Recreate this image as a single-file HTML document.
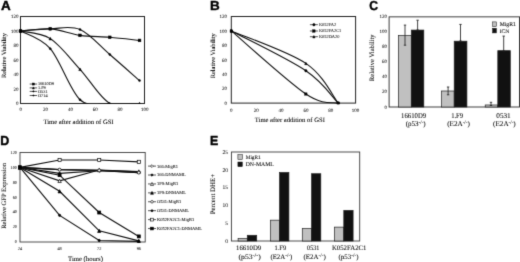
<!DOCTYPE html><html><head><meta charset="utf-8"><style>html,body{margin:0;padding:0;background:#fff}svg{display:block}text{text-rendering:geometricPrecision}</style></head><body>
<svg width="520" height="262" viewBox="0 0 520 262">
<defs><filter id="bl" x="0" y="0" width="520" height="262" filterUnits="userSpaceOnUse" color-interpolation-filters="sRGB"><feConvolveMatrix order="3" kernelMatrix="0.01440 0.09120 0.01440 0.09120 0.57760 0.09120 0.01440 0.09120 0.01440" divisor="1" edgeMode="duplicate" preserveAlpha="false"/></filter></defs>
<g filter="url(#bl)">
<rect width="520" height="262" fill="#fff"/>
<text transform="translate(0.90 10.10) scale(1.035 1)" font-size="13.0" font-family="Liberation Sans, sans-serif" font-weight="bold" fill="#000" stroke="#000" stroke-width="0.4">A</text>
<text transform="translate(209.90 9.70) scale(1.035 1)" font-size="13.0" font-family="Liberation Sans, sans-serif" font-weight="bold" fill="#000" stroke="#000" stroke-width="0.4">B</text>
<text transform="translate(369.30 9.80) scale(0.930 1)" font-size="13.0" font-family="Liberation Sans, sans-serif" font-weight="bold" fill="#000" stroke="#000" stroke-width="0.4">C</text>
<text transform="translate(0.30 145.40) scale(0.960 1)" font-size="13.0" font-family="Liberation Sans, sans-serif" font-weight="bold" fill="#000" stroke="#000" stroke-width="0.4">D</text>
<text transform="translate(209.90 145.20) scale(0.950 1)" font-size="13.0" font-family="Liberation Sans, sans-serif" font-weight="bold" fill="#000" stroke="#000" stroke-width="0.4">E</text>
<clipPath id="ca"><rect x="18.50" y="16.50" width="128.00" height="87.60"/></clipPath>
<rect x="20.50" y="16.50" width="124.00" height="87.00" fill="none" stroke="#222" stroke-width="1.0"/>
<g clip-path="url(#ca)">
<path d="M20.50 31.00 C25.46 30.64 40.34 28.10 50.26 28.83 C60.18 29.55 70.10 33.94 80.02 35.35 C89.94 36.76 99.86 36.46 109.78 37.31 C119.70 38.15 134.58 39.91 139.54 40.42" fill="none" stroke="#111" stroke-width="1.1"/>
<path d="M20.50 31.00 C25.46 30.64 40.34 29.07 50.26 28.83 C60.18 28.58 70.10 25.27 80.02 29.55 C89.94 33.83 99.86 45.98 109.78 54.49 C119.70 63.00 134.58 76.24 139.54 80.59" fill="none" stroke="#111" stroke-width="1.1"/>
<path d="M20.50 31.00 C25.46 32.27 40.34 32.23 50.26 38.61 C60.18 44.99 70.10 58.47 80.02 69.28 C89.94 80.09 99.86 97.80 109.78 103.50 C119.70 109.20 134.58 103.50 139.54 103.50" fill="none" stroke="#111" stroke-width="1.1"/>
<path d="M20.50 31.00 C25.46 33.95 40.34 37.24 50.26 48.69 C60.18 60.15 70.10 90.59 80.02 99.73 C89.94 108.87 99.86 102.87 109.78 103.50 C119.70 104.13 134.58 103.50 139.54 103.50" fill="none" stroke="#111" stroke-width="1.1"/>
<rect x="19.15" y="29.65" width="2.70" height="2.70" fill="#000" stroke="#000" stroke-width="0.50"/>
<rect x="48.91" y="27.48" width="2.70" height="2.70" fill="#000" stroke="#000" stroke-width="0.50"/>
<rect x="78.67" y="34.00" width="2.70" height="2.70" fill="#000" stroke="#000" stroke-width="0.50"/>
<rect x="108.43" y="35.96" width="2.70" height="2.70" fill="#000" stroke="#000" stroke-width="0.50"/>
<rect x="138.19" y="39.07" width="2.70" height="2.70" fill="#000" stroke="#000" stroke-width="0.50"/>
<circle cx="20.50" cy="31.00" r="1.00" fill="#000" stroke="#000" stroke-width="0.50"/>
<circle cx="50.26" cy="28.83" r="1.00" fill="#000" stroke="#000" stroke-width="0.50"/>
<circle cx="80.02" cy="29.55" r="1.00" fill="#000" stroke="#000" stroke-width="0.50"/>
<circle cx="109.78" cy="54.49" r="1.00" fill="#000" stroke="#000" stroke-width="0.50"/>
<circle cx="139.54" cy="80.59" r="1.00" fill="#000" stroke="#000" stroke-width="0.50"/>
<path d="M20.50 29.70 L21.80 32.30 L19.20 32.30 Z" fill="#000" stroke="#000" stroke-width="0.50"/>
<path d="M50.26 37.31 L51.56 39.91 L48.96 39.91 Z" fill="#000" stroke="#000" stroke-width="0.50"/>
<path d="M80.02 67.98 L81.32 70.58 L78.72 70.58 Z" fill="#000" stroke="#000" stroke-width="0.50"/>
<path d="M109.78 102.20 L111.08 104.80 L108.48 104.80 Z" fill="#000" stroke="#000" stroke-width="0.50"/>
<path d="M139.54 102.20 L140.84 104.80 L138.24 104.80 Z" fill="#000" stroke="#000" stroke-width="0.50"/>
<circle cx="20.50" cy="31.00" r="1.00" fill="#000" stroke="#000" stroke-width="0.50"/>
<circle cx="50.26" cy="48.69" r="1.00" fill="#000" stroke="#000" stroke-width="0.50"/>
<circle cx="80.02" cy="99.73" r="1.00" fill="#000" stroke="#000" stroke-width="0.50"/>
</g>
<text x="18.50" y="105.30" font-size="5.00" text-anchor="end" font-family="Liberation Serif, serif" fill="#222" stroke="#222" stroke-width="0.06" >0</text>
<text x="18.50" y="90.80" font-size="5.00" text-anchor="end" font-family="Liberation Serif, serif" fill="#222" stroke="#222" stroke-width="0.06" >20</text>
<text x="18.50" y="76.30" font-size="5.00" text-anchor="end" font-family="Liberation Serif, serif" fill="#222" stroke="#222" stroke-width="0.06" >40</text>
<text x="18.50" y="61.80" font-size="5.00" text-anchor="end" font-family="Liberation Serif, serif" fill="#222" stroke="#222" stroke-width="0.06" >60</text>
<text x="18.50" y="47.30" font-size="5.00" text-anchor="end" font-family="Liberation Serif, serif" fill="#222" stroke="#222" stroke-width="0.06" >80</text>
<text x="18.50" y="32.80" font-size="5.00" text-anchor="end" font-family="Liberation Serif, serif" fill="#222" stroke="#222" stroke-width="0.06" >100</text>
<text x="18.50" y="18.30" font-size="5.00" text-anchor="end" font-family="Liberation Serif, serif" fill="#222" stroke="#222" stroke-width="0.06" >120</text>
<text x="20.80" y="111.40" font-size="5.00" text-anchor="middle" font-family="Liberation Serif, serif" fill="#222" stroke="#222" stroke-width="0.06" >0</text>
<text x="45.60" y="111.40" font-size="5.00" text-anchor="middle" font-family="Liberation Serif, serif" fill="#222" stroke="#222" stroke-width="0.06" >20</text>
<text x="70.40" y="111.40" font-size="5.00" text-anchor="middle" font-family="Liberation Serif, serif" fill="#222" stroke="#222" stroke-width="0.06" >40</text>
<text x="95.20" y="111.40" font-size="5.00" text-anchor="middle" font-family="Liberation Serif, serif" fill="#222" stroke="#222" stroke-width="0.06" >60</text>
<text x="120.00" y="111.40" font-size="5.00" text-anchor="middle" font-family="Liberation Serif, serif" fill="#222" stroke="#222" stroke-width="0.06" >80</text>
<text x="144.80" y="111.40" font-size="5.00" text-anchor="middle" font-family="Liberation Serif, serif" fill="#222" stroke="#222" stroke-width="0.06" >100</text>
<text x="78.50" y="123.70" font-size="6.60" text-anchor="middle" font-family="Liberation Serif, serif" fill="#000" stroke="#000" stroke-width="0.06" >Time after addition of GSI</text>
<text transform="translate(5.60 55.50) rotate(-90)" font-size="6.38" text-anchor="middle" font-family="Liberation Serif, serif" fill="#000" stroke="#000" stroke-width="0.06" >Relative Viability</text>
<path d="M29.7 84.05 H37.1" stroke="#111" stroke-width="0.7"/>
<rect x="32.40" y="83.05" width="2.00" height="2.00" fill="#000" stroke="#000" stroke-width="0.50"/>
<text x="38.00" y="85.45" font-size="4.30" text-anchor="start" font-family="Liberation Serif, serif" fill="#111" stroke="#111" stroke-width="0.06" >16610D9</text>
<path d="M29.7 87.90 H37.1" stroke="#111" stroke-width="0.7"/>
<path d="M33.40 86.90 L34.40 88.90 L32.40 88.90 Z" fill="#000" stroke="#000" stroke-width="0.50"/>
<text x="38.00" y="89.30" font-size="4.30" text-anchor="start" font-family="Liberation Serif, serif" fill="#111" stroke="#111" stroke-width="0.06" >1.F9</text>
<path d="M29.7 91.40 H37.1" stroke="#111" stroke-width="0.7"/>
<circle cx="33.40" cy="91.40" r="0.70" fill="#000" stroke="#000" stroke-width="0.50"/>
<text x="38.00" y="92.80" font-size="4.30" text-anchor="start" font-family="Liberation Serif, serif" fill="#111" stroke="#111" stroke-width="0.06" >O531</text>
<path d="M29.7 95.50 H37.1" stroke="#111" stroke-width="0.7"/>
<path d="M33.40 94.70 L34.20 95.50 L33.40 96.30 L32.60 95.50 Z" fill="#000" stroke="#000" stroke-width="0.50"/>
<text x="38.00" y="96.90" font-size="4.30" text-anchor="start" font-family="Liberation Serif, serif" fill="#111" stroke="#111" stroke-width="0.06" >O714</text>
<clipPath id="cb"><rect x="229.30" y="16.50" width="128.30" height="87.80"/></clipPath>
<rect x="231.30" y="16.50" width="124.30" height="86.60" fill="none" stroke="#222" stroke-width="1.0"/>
<g clip-path="url(#cb)">
<path d="M231.30 30.93 C243.73 37.57 288.06 58.74 305.88 70.77 C323.70 82.80 332.81 97.71 338.20 103.10" fill="none" stroke="#111" stroke-width="1.1"/>
<path d="M231.30 30.93 C243.73 41.45 288.06 81.98 305.88 94.01 C323.70 106.03 332.81 101.58 338.20 103.10" fill="none" stroke="#111" stroke-width="1.1"/>
<path d="M231.30 30.93 C243.73 36.35 288.06 51.38 305.88 63.41 C323.70 75.44 332.81 96.48 338.20 103.10" fill="none" stroke="#111" stroke-width="1.1"/>
<circle cx="231.30" cy="30.93" r="1.20" fill="#000" stroke="#000" stroke-width="0.50"/>
<circle cx="305.88" cy="70.77" r="1.20" fill="#000" stroke="#000" stroke-width="0.50"/>
<circle cx="338.20" cy="103.10" r="1.20" fill="#000" stroke="#000" stroke-width="0.50"/>
<rect x="230.15" y="29.78" width="2.30" height="2.30" fill="#000" stroke="#000" stroke-width="0.50"/>
<rect x="304.73" y="92.86" width="2.30" height="2.30" fill="#000" stroke="#000" stroke-width="0.50"/>
<rect x="337.05" y="101.95" width="2.30" height="2.30" fill="#000" stroke="#000" stroke-width="0.50"/>
<path d="M231.30 29.68 L232.55 32.18 L230.05 32.18 Z" fill="#000" stroke="#000" stroke-width="0.50"/>
<path d="M305.88 62.16 L307.13 64.66 L304.63 64.66 Z" fill="#000" stroke="#000" stroke-width="0.50"/>
<path d="M338.20 101.85 L339.45 104.35 L336.95 104.35 Z" fill="#000" stroke="#000" stroke-width="0.50"/>
</g>
<text x="227.10" y="104.80" font-size="5.00" text-anchor="end" font-family="Liberation Serif, serif" fill="#222" stroke="#222" stroke-width="0.06" >0</text>
<text x="227.10" y="90.37" font-size="5.00" text-anchor="end" font-family="Liberation Serif, serif" fill="#222" stroke="#222" stroke-width="0.06" >20</text>
<text x="227.10" y="75.93" font-size="5.00" text-anchor="end" font-family="Liberation Serif, serif" fill="#222" stroke="#222" stroke-width="0.06" >40</text>
<text x="227.10" y="61.50" font-size="5.00" text-anchor="end" font-family="Liberation Serif, serif" fill="#222" stroke="#222" stroke-width="0.06" >60</text>
<text x="227.10" y="47.07" font-size="5.00" text-anchor="end" font-family="Liberation Serif, serif" fill="#222" stroke="#222" stroke-width="0.06" >80</text>
<text x="227.10" y="32.63" font-size="5.00" text-anchor="end" font-family="Liberation Serif, serif" fill="#222" stroke="#222" stroke-width="0.06" >100</text>
<text x="227.10" y="18.20" font-size="5.00" text-anchor="end" font-family="Liberation Serif, serif" fill="#222" stroke="#222" stroke-width="0.06" >120</text>
<text x="231.30" y="112.20" font-size="5.00" text-anchor="middle" font-family="Liberation Serif, serif" fill="#222" stroke="#222" stroke-width="0.06" >0</text>
<text x="256.16" y="112.20" font-size="5.00" text-anchor="middle" font-family="Liberation Serif, serif" fill="#222" stroke="#222" stroke-width="0.06" >20</text>
<text x="281.02" y="112.20" font-size="5.00" text-anchor="middle" font-family="Liberation Serif, serif" fill="#222" stroke="#222" stroke-width="0.06" >40</text>
<text x="305.88" y="112.20" font-size="5.00" text-anchor="middle" font-family="Liberation Serif, serif" fill="#222" stroke="#222" stroke-width="0.06" >60</text>
<text x="330.74" y="112.20" font-size="5.00" text-anchor="middle" font-family="Liberation Serif, serif" fill="#222" stroke="#222" stroke-width="0.06" >80</text>
<text x="355.60" y="112.20" font-size="5.00" text-anchor="middle" font-family="Liberation Serif, serif" fill="#222" stroke="#222" stroke-width="0.06" >100</text>
<text x="289.80" y="122.30" font-size="6.60" text-anchor="middle" font-family="Liberation Serif, serif" fill="#000" stroke="#000" stroke-width="0.06" >Time after addition of GSI</text>
<text transform="translate(214.50 55.75) rotate(-90)" font-size="6.40" text-anchor="middle" font-family="Liberation Serif, serif" fill="#000" stroke="#000" stroke-width="0.06" >Relative Viability</text>
<path d="M309.9 24.70 H317.9" stroke="#111" stroke-width="0.7"/>
<circle cx="313.90" cy="24.70" r="1.20" fill="#000" stroke="#000" stroke-width="0.50"/>
<text x="318.90" y="26.10" font-size="4.40" text-anchor="start" font-family="Liberation Serif, serif" fill="#222" stroke="#222" stroke-width="0.06" >K052FA2</text>
<path d="M309.9 31.00 H317.9" stroke="#111" stroke-width="0.7"/>
<rect x="312.70" y="29.80" width="2.40" height="2.40" fill="#000" stroke="#000" stroke-width="0.50"/>
<text x="318.90" y="32.40" font-size="4.40" text-anchor="start" font-family="Liberation Serif, serif" fill="#222" stroke="#222" stroke-width="0.06" >K052FA2C1</text>
<path d="M309.9 36.70 H317.9" stroke="#111" stroke-width="0.7"/>
<path d="M313.90 35.50 L315.10 37.90 L312.70 37.90 Z" fill="#000" stroke="#000" stroke-width="0.50"/>
<text x="318.90" y="38.10" font-size="4.40" text-anchor="start" font-family="Liberation Serif, serif" fill="#222" stroke="#222" stroke-width="0.06" >K052DA20</text>
<rect x="389.10" y="16.85" width="130.40" height="90.15" fill="none" stroke="#333" stroke-width="0.95"/>
<rect x="398.40" y="35.48" width="12.90" height="71.52" fill="#c0c0c0" stroke="#222" stroke-width="0.7"/>
<rect x="411.30" y="30.07" width="12.50" height="76.93" fill="#111" stroke="#222" stroke-width="0.7"/>
<rect x="441.60" y="91.00" width="12.60" height="16.00" fill="#c0c0c0" stroke="#222" stroke-width="0.7"/>
<rect x="454.20" y="41.19" width="12.70" height="65.81" fill="#111" stroke="#222" stroke-width="0.7"/>
<rect x="485.20" y="104.97" width="12.60" height="2.03" fill="#c0c0c0" stroke="#222" stroke-width="0.7"/>
<rect x="497.80" y="50.66" width="12.50" height="56.34" fill="#111" stroke="#222" stroke-width="0.7"/>
<path d="M405.00 25.10 V45.20 M403.80 25.10 h2.4 M403.80 45.20 h2.4" stroke="#222" stroke-width="0.85" fill="none"/>
<path d="M417.60 20.20 V30.00 M416.40 20.20 h2.4 M416.40 30.00 h2.4" stroke="#222" stroke-width="0.85" fill="none"/>
<path d="M448.10 87.00 V94.80 M446.90 87.00 h2.4 M446.90 94.80 h2.4" stroke="#222" stroke-width="0.85" fill="none"/>
<path d="M460.50 24.40 V41.00 M459.30 24.40 h2.4 M459.30 41.00 h2.4" stroke="#222" stroke-width="0.85" fill="none"/>
<path d="M491.00 102.30 V105.50 M489.80 102.30 h2.4 M489.80 105.50 h2.4" stroke="#222" stroke-width="0.85" fill="none"/>
<path d="M503.70 36.10 V51.00 M502.50 36.10 h2.4 M502.50 51.00 h2.4" stroke="#222" stroke-width="0.85" fill="none"/>
<text x="387.10" y="108.50" font-size="5.00" text-anchor="end" font-family="Liberation Serif, serif" fill="#222" stroke="#222" stroke-width="0.06" >0</text>
<text x="387.10" y="93.47" font-size="5.00" text-anchor="end" font-family="Liberation Serif, serif" fill="#222" stroke="#222" stroke-width="0.06" >20</text>
<text x="387.10" y="78.45" font-size="5.00" text-anchor="end" font-family="Liberation Serif, serif" fill="#222" stroke="#222" stroke-width="0.06" >40</text>
<text x="387.10" y="63.42" font-size="5.00" text-anchor="end" font-family="Liberation Serif, serif" fill="#222" stroke="#222" stroke-width="0.06" >60</text>
<text x="387.10" y="48.40" font-size="5.00" text-anchor="end" font-family="Liberation Serif, serif" fill="#222" stroke="#222" stroke-width="0.06" >80</text>
<text x="387.10" y="33.38" font-size="5.00" text-anchor="end" font-family="Liberation Serif, serif" fill="#222" stroke="#222" stroke-width="0.06" >100</text>
<text x="387.10" y="18.35" font-size="5.00" text-anchor="end" font-family="Liberation Serif, serif" fill="#222" stroke="#222" stroke-width="0.06" >120</text>
<text transform="translate(374.30 57.80) rotate(-90)" font-size="6.62" text-anchor="middle" font-family="Liberation Serif, serif" fill="#000" stroke="#000" stroke-width="0.06" >Relative Viability</text>
<text transform="translate(413.60 117.70) scale(0.920 1)" font-size="7.30" text-anchor="middle" font-family="Liberation Serif, serif" fill="#000" stroke="#000" stroke-width="0.06">16610D9</text>
<text transform="translate(415.70 126.00) scale(0.965 1)" font-size="7.30" text-anchor="middle" font-family="Liberation Serif, serif" fill="#000" stroke="#000" stroke-width="0.06">(p53<tspan font-size="5.20" dy="-2.1">-/-</tspan><tspan dy="2.1">)</tspan></text>
<text transform="translate(457.10 117.70) scale(0.903 1)" font-size="7.30" text-anchor="middle" font-family="Liberation Serif, serif" fill="#000" stroke="#000" stroke-width="0.06">1.F9</text>
<text transform="translate(458.50 126.00) scale(0.980 1)" font-size="7.30" text-anchor="middle" font-family="Liberation Serif, serif" fill="#000" stroke="#000" stroke-width="0.06">(E2A<tspan font-size="5.20" dy="-2.1">-/-</tspan><tspan dy="2.1">)</tspan></text>
<text transform="translate(503.50 117.70) scale(0.993 1)" font-size="7.30" text-anchor="middle" font-family="Liberation Serif, serif" fill="#000" stroke="#000" stroke-width="0.06">0531</text>
<text transform="translate(504.40 126.00) scale(0.980 1)" font-size="7.30" text-anchor="middle" font-family="Liberation Serif, serif" fill="#000" stroke="#000" stroke-width="0.06">(E2A<tspan font-size="5.20" dy="-2.1">-/-</tspan><tspan dy="2.1">)</tspan></text>
<rect x="492.6" y="21.9" width="3.8" height="4.8" fill="#c0c0c0" stroke="#111" stroke-width="0.5"/>
<rect x="492.6" y="28.3" width="3.8" height="4.6" fill="#111" stroke="#111" stroke-width="0.5"/>
<text x="499.70" y="26.30" font-size="5.70" text-anchor="start" font-family="Liberation Serif, serif" fill="#000" stroke="#000" stroke-width="0.06" >MigR1</text>
<text x="499.70" y="32.90" font-size="5.50" text-anchor="start" font-family="Liberation Serif, serif" fill="#000" stroke="#000" stroke-width="0.06" >ICN</text>
<rect x="20.00" y="152.50" width="125.20" height="89.50" fill="none" stroke="#3a3a3a" stroke-width="0.9"/>
<path d="M20.00 167.42 L59.60 169.65 L99.20 170.40 L138.80 171.89" fill="none" stroke="#111" stroke-width="1.15"/>
<path d="M20.00 165.82 L21.60 167.42 L20.00 169.02 L18.40 167.42 Z" fill="#fff" stroke="#000" stroke-width="0.70"/>
<path d="M59.60 168.05 L61.20 169.65 L59.60 171.25 L58.00 169.65 Z" fill="#fff" stroke="#000" stroke-width="0.70"/>
<path d="M99.20 168.80 L100.80 170.40 L99.20 172.00 L97.60 170.40 Z" fill="#fff" stroke="#000" stroke-width="0.70"/>
<path d="M138.80 170.29 L140.40 171.89 L138.80 173.49 L137.20 171.89 Z" fill="#fff" stroke="#000" stroke-width="0.70"/>
<path d="M20.00 167.42 L59.60 173.38 L99.20 170.77 L138.80 172.64" fill="none" stroke="#111" stroke-width="1.15"/>
<path d="M20.00 166.02 L21.40 167.42 L20.00 168.82 L18.60 167.42 Z" fill="#000" stroke="#000" stroke-width="0.70"/>
<path d="M59.60 171.98 L61.00 173.38 L59.60 174.78 L58.20 173.38 Z" fill="#000" stroke="#000" stroke-width="0.70"/>
<path d="M99.20 169.37 L100.60 170.77 L99.20 172.17 L97.80 170.77 Z" fill="#000" stroke="#000" stroke-width="0.70"/>
<path d="M138.80 171.24 L140.20 172.64 L138.80 174.04 L137.40 172.64 Z" fill="#000" stroke="#000" stroke-width="0.70"/>
<path d="M20.00 167.42 L59.60 180.84 L99.20 170.03 L138.80 171.52" fill="none" stroke="#111" stroke-width="1.15"/>
<path d="M20.00 165.72 L21.70 169.12 L18.30 169.12 Z" fill="#fff" stroke="#000" stroke-width="0.70"/>
<path d="M59.60 179.14 L61.30 182.54 L57.90 182.54 Z" fill="#fff" stroke="#000" stroke-width="0.70"/>
<path d="M99.20 168.33 L100.90 171.73 L97.50 171.73 Z" fill="#fff" stroke="#000" stroke-width="0.70"/>
<path d="M138.80 169.82 L140.50 173.22 L137.10 173.22 Z" fill="#fff" stroke="#000" stroke-width="0.70"/>
<path d="M20.00 167.42 L59.60 191.28 L99.20 230.81 L138.80 240.88" fill="none" stroke="#111" stroke-width="1.15"/>
<path d="M20.00 165.82 L21.60 169.02 L18.40 169.02 Z" fill="#000" stroke="#000" stroke-width="0.70"/>
<path d="M59.60 189.68 L61.20 192.88 L58.00 192.88 Z" fill="#000" stroke="#000" stroke-width="0.70"/>
<path d="M99.20 229.21 L100.80 232.41 L97.60 232.41 Z" fill="#000" stroke="#000" stroke-width="0.70"/>
<path d="M138.80 239.28 L140.40 242.48 L137.20 242.48 Z" fill="#000" stroke="#000" stroke-width="0.70"/>
<path d="M20.00 167.42 L59.60 169.65 L99.20 170.40 L138.80 172.64" fill="none" stroke="#111" stroke-width="1.15"/>
<circle cx="20.00" cy="167.42" r="1.45" fill="#fff" stroke="#000" stroke-width="0.70"/>
<circle cx="59.60" cy="169.65" r="1.45" fill="#fff" stroke="#000" stroke-width="0.70"/>
<circle cx="99.20" cy="170.40" r="1.45" fill="#fff" stroke="#000" stroke-width="0.70"/>
<circle cx="138.80" cy="172.64" r="1.45" fill="#fff" stroke="#000" stroke-width="0.70"/>
<path d="M20.00 167.42 L59.60 215.37 L99.20 240.51 L138.80 241.40" fill="none" stroke="#111" stroke-width="1.15"/>
<circle cx="20.00" cy="167.42" r="1.15" fill="#000" stroke="#000" stroke-width="0.70"/>
<circle cx="59.60" cy="215.37" r="1.15" fill="#000" stroke="#000" stroke-width="0.70"/>
<circle cx="99.20" cy="240.51" r="1.15" fill="#000" stroke="#000" stroke-width="0.70"/>
<circle cx="138.80" cy="241.40" r="1.15" fill="#000" stroke="#000" stroke-width="0.70"/>
<path d="M20.00 167.42 L59.60 159.96 L99.20 159.96 L138.80 161.82" fill="none" stroke="#111" stroke-width="1.15"/>
<rect x="18.45" y="165.87" width="3.10" height="3.10" fill="#fff" stroke="#000" stroke-width="0.70"/>
<rect x="58.05" y="158.41" width="3.10" height="3.10" fill="#fff" stroke="#000" stroke-width="0.70"/>
<rect x="97.65" y="158.41" width="3.10" height="3.10" fill="#fff" stroke="#000" stroke-width="0.70"/>
<rect x="137.25" y="160.27" width="3.10" height="3.10" fill="#fff" stroke="#000" stroke-width="0.70"/>
<path d="M20.00 167.42 L59.60 175.17 L99.20 212.54 L138.80 236.41" fill="none" stroke="#111" stroke-width="1.15"/>
<rect x="18.50" y="165.92" width="3.00" height="3.00" fill="#000" stroke="#000" stroke-width="0.70"/>
<rect x="58.10" y="173.67" width="3.00" height="3.00" fill="#000" stroke="#000" stroke-width="0.70"/>
<rect x="97.70" y="211.04" width="3.00" height="3.00" fill="#000" stroke="#000" stroke-width="0.70"/>
<rect x="137.30" y="234.91" width="3.00" height="3.00" fill="#000" stroke="#000" stroke-width="0.70"/>
<text x="17.00" y="243.30" font-size="4.30" text-anchor="end" font-family="Liberation Serif, serif" fill="#222" stroke="#222" stroke-width="0.06" >0</text>
<text x="17.00" y="228.38" font-size="4.30" text-anchor="end" font-family="Liberation Serif, serif" fill="#222" stroke="#222" stroke-width="0.06" >20</text>
<text x="17.00" y="213.47" font-size="4.30" text-anchor="end" font-family="Liberation Serif, serif" fill="#222" stroke="#222" stroke-width="0.06" >40</text>
<text x="17.00" y="198.55" font-size="4.30" text-anchor="end" font-family="Liberation Serif, serif" fill="#222" stroke="#222" stroke-width="0.06" >60</text>
<text x="17.00" y="183.63" font-size="4.30" text-anchor="end" font-family="Liberation Serif, serif" fill="#222" stroke="#222" stroke-width="0.06" >80</text>
<text x="17.00" y="168.72" font-size="4.30" text-anchor="end" font-family="Liberation Serif, serif" fill="#222" stroke="#222" stroke-width="0.06" >100</text>
<text x="17.00" y="153.80" font-size="4.30" text-anchor="end" font-family="Liberation Serif, serif" fill="#222" stroke="#222" stroke-width="0.06" >120</text>
<text x="20.00" y="249.80" font-size="4.30" text-anchor="middle" font-family="Liberation Serif, serif" fill="#222" stroke="#222" stroke-width="0.06" >24</text>
<text x="59.60" y="249.80" font-size="4.30" text-anchor="middle" font-family="Liberation Serif, serif" fill="#222" stroke="#222" stroke-width="0.06" >48</text>
<text x="99.20" y="249.80" font-size="4.30" text-anchor="middle" font-family="Liberation Serif, serif" fill="#222" stroke="#222" stroke-width="0.06" >72</text>
<text x="138.80" y="249.80" font-size="4.30" text-anchor="middle" font-family="Liberation Serif, serif" fill="#222" stroke="#222" stroke-width="0.06" >96</text>
<text x="85.50" y="260.60" font-size="6.70" text-anchor="middle" font-family="Liberation Serif, serif" fill="#000" stroke="#000" stroke-width="0.06" >Time (hours)</text>
<text transform="translate(5.50 195.90) rotate(-90)" font-size="6.55" text-anchor="middle" font-family="Liberation Serif, serif" fill="#000" stroke="#000" stroke-width="0.06" >Relative GFP Expression</text>
<path d="M148 166.10 H156" stroke="#111" stroke-width="0.7"/>
<path d="M152.00 164.66 L153.44 166.10 L152.00 167.54 L150.56 166.10 Z" fill="#fff" stroke="#000" stroke-width="0.60"/>
<text x="157.10" y="167.55" font-size="4.50" text-anchor="start" font-family="Liberation Serif, serif" fill="#111" stroke="#111" stroke-width="0.06" >166-MigR1</text>
<path d="M148 175.02 H156" stroke="#111" stroke-width="0.7"/>
<path d="M152.00 173.76 L153.26 175.02 L152.00 176.28 L150.74 175.02 Z" fill="#000" stroke="#000" stroke-width="0.60"/>
<text x="157.10" y="176.47" font-size="4.50" text-anchor="start" font-family="Liberation Serif, serif" fill="#111" stroke="#111" stroke-width="0.06" >166-DNMAML</text>
<path d="M148 183.94 H156" stroke="#111" stroke-width="0.7"/>
<path d="M152.00 182.41 L153.53 185.47 L150.47 185.47 Z" fill="#fff" stroke="#000" stroke-width="0.60"/>
<text x="157.10" y="185.39" font-size="4.50" text-anchor="start" font-family="Liberation Serif, serif" fill="#111" stroke="#111" stroke-width="0.06" >1F9-MigR1</text>
<path d="M148 192.86 H156" stroke="#111" stroke-width="0.7"/>
<path d="M152.00 191.42 L153.44 194.30 L150.56 194.30 Z" fill="#000" stroke="#000" stroke-width="0.60"/>
<text x="157.10" y="194.31" font-size="4.50" text-anchor="start" font-family="Liberation Serif, serif" fill="#111" stroke="#111" stroke-width="0.06" >1F9-DNMAML</text>
<path d="M148 201.78 H156" stroke="#111" stroke-width="0.7"/>
<circle cx="152.00" cy="201.78" r="1.30" fill="#fff" stroke="#000" stroke-width="0.60"/>
<text x="157.10" y="203.23" font-size="4.50" text-anchor="start" font-family="Liberation Serif, serif" fill="#111" stroke="#111" stroke-width="0.06" >O531-MigR1</text>
<path d="M148 210.70 H156" stroke="#111" stroke-width="0.7"/>
<circle cx="152.00" cy="210.70" r="1.03" fill="#000" stroke="#000" stroke-width="0.60"/>
<text x="157.10" y="212.15" font-size="4.50" text-anchor="start" font-family="Liberation Serif, serif" fill="#111" stroke="#111" stroke-width="0.06" >O531-DNMAML</text>
<path d="M148 219.62 H156" stroke="#111" stroke-width="0.7"/>
<rect x="150.60" y="218.22" width="2.79" height="2.79" fill="#fff" stroke="#000" stroke-width="0.60"/>
<text x="157.10" y="221.07" font-size="4.50" text-anchor="start" font-family="Liberation Serif, serif" fill="#111" stroke="#111" stroke-width="0.06" >K052FA2C1-MigR1</text>
<path d="M148 228.54 H156" stroke="#111" stroke-width="0.7"/>
<rect x="150.65" y="227.19" width="2.70" height="2.70" fill="#000" stroke="#000" stroke-width="0.60"/>
<text x="157.10" y="229.99" font-size="4.50" text-anchor="start" font-family="Liberation Serif, serif" fill="#111" stroke="#111" stroke-width="0.06" >K052FA2C1-DNMAML</text>
<rect x="231.40" y="152.00" width="128.30" height="89.00" fill="none" stroke="#3a3a3a" stroke-width="0.9"/>
<rect x="238.10" y="238.51" width="9.20" height="2.49" fill="#c0c0c0" stroke="#222" stroke-width="0.7"/>
<rect x="247.30" y="235.30" width="9.40" height="5.70" fill="#111" stroke="#222" stroke-width="0.7"/>
<rect x="270.60" y="220.17" width="8.90" height="20.83" fill="#c0c0c0" stroke="#222" stroke-width="0.7"/>
<rect x="279.60" y="172.47" width="9.30" height="68.53" fill="#111" stroke="#222" stroke-width="0.7"/>
<rect x="302.30" y="228.54" width="9.30" height="12.46" fill="#c0c0c0" stroke="#222" stroke-width="0.7"/>
<rect x="311.60" y="173.72" width="9.20" height="67.28" fill="#111" stroke="#222" stroke-width="0.7"/>
<rect x="334.50" y="227.12" width="9.30" height="13.88" fill="#c0c0c0" stroke="#222" stroke-width="0.7"/>
<rect x="343.80" y="210.38" width="9.30" height="30.62" fill="#111" stroke="#222" stroke-width="0.7"/>
<text x="228.00" y="242.80" font-size="5.50" text-anchor="end" font-family="Liberation Serif, serif" fill="#222" stroke="#222" stroke-width="0.06" >0</text>
<text x="228.00" y="225.00" font-size="5.50" text-anchor="end" font-family="Liberation Serif, serif" fill="#222" stroke="#222" stroke-width="0.06" >5</text>
<text x="228.00" y="207.20" font-size="5.50" text-anchor="end" font-family="Liberation Serif, serif" fill="#222" stroke="#222" stroke-width="0.06" >10</text>
<text x="228.00" y="189.40" font-size="5.50" text-anchor="end" font-family="Liberation Serif, serif" fill="#222" stroke="#222" stroke-width="0.06" >15</text>
<text x="228.00" y="171.60" font-size="5.50" text-anchor="end" font-family="Liberation Serif, serif" fill="#222" stroke="#222" stroke-width="0.06" >20</text>
<text x="228.00" y="153.80" font-size="5.50" text-anchor="end" font-family="Liberation Serif, serif" fill="#222" stroke="#222" stroke-width="0.06" >25</text>
<text transform="translate(214.70 194.15) rotate(-90)" font-size="6.90" text-anchor="middle" font-family="Liberation Serif, serif" fill="#000" stroke="#000" stroke-width="0.06" >Percent DHE+</text>
<text transform="translate(248.60 250.25) scale(0.992 1)" font-size="6.80" text-anchor="middle" font-family="Liberation Serif, serif" fill="#000" stroke="#000" stroke-width="0.06">16610D9</text>
<text transform="translate(249.60 258.60) scale(1.130 1)" font-size="6.80" text-anchor="middle" font-family="Liberation Serif, serif" fill="#000" stroke="#000" stroke-width="0.06">(p53<tspan font-size="5.20" dy="-2.1">-/-</tspan><tspan dy="2.1">)</tspan></text>
<text transform="translate(280.30 250.25) scale(0.944 1)" font-size="6.80" text-anchor="middle" font-family="Liberation Serif, serif" fill="#000" stroke="#000" stroke-width="0.06">1.F9</text>
<text transform="translate(281.40 258.60) scale(1.004 1)" font-size="6.80" text-anchor="middle" font-family="Liberation Serif, serif" fill="#000" stroke="#000" stroke-width="0.06">(E2A<tspan font-size="5.20" dy="-2.1">-/-</tspan><tspan dy="2.1">)</tspan></text>
<text transform="translate(313.20 250.25) scale(0.904 1)" font-size="6.80" text-anchor="middle" font-family="Liberation Serif, serif" fill="#000" stroke="#000" stroke-width="0.06">0531</text>
<text transform="translate(314.60 258.60) scale(1.018 1)" font-size="6.80" text-anchor="middle" font-family="Liberation Serif, serif" fill="#000" stroke="#000" stroke-width="0.06">(E2A<tspan font-size="5.20" dy="-2.1">-/-</tspan><tspan dy="2.1">)</tspan></text>
<text transform="translate(349.20 250.25) scale(0.999 1)" font-size="6.80" text-anchor="middle" font-family="Liberation Serif, serif" fill="#000" stroke="#000" stroke-width="0.06">K052FA2C1</text>
<text transform="translate(348.50 258.60) scale(1.013 1)" font-size="6.80" text-anchor="middle" font-family="Liberation Serif, serif" fill="#000" stroke="#000" stroke-width="0.06">(p53<tspan font-size="5.20" dy="-2.1">-/-</tspan><tspan dy="2.1">)</tspan></text>
<rect x="237.9" y="154.7" width="4.4" height="4.8" fill="#c0c0c0" stroke="#111" stroke-width="0.5"/>
<rect x="237.9" y="162.0" width="4.4" height="4.6" fill="#111" stroke="#111" stroke-width="0.5"/>
<text x="245.70" y="159.30" font-size="5.30" text-anchor="start" font-family="Liberation Serif, serif" fill="#000" stroke="#000" stroke-width="0.06" >MigR1</text>
<text x="245.70" y="166.40" font-size="5.75" text-anchor="start" font-family="Liberation Serif, serif" fill="#000" stroke="#000" stroke-width="0.06" >DN-MAML</text>
</g></svg></body></html>
